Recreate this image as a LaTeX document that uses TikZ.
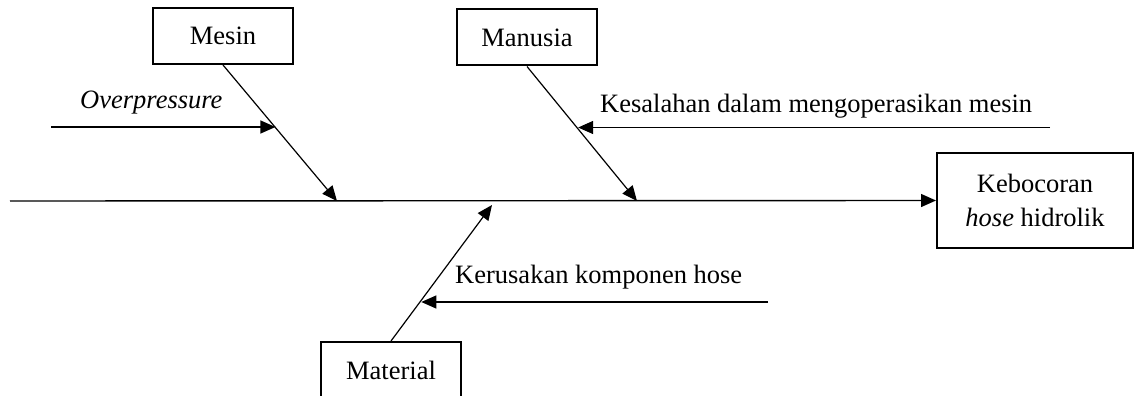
\documentclass[tikz,border=0pt]{standalone}
\usepackage{fontspec}
\setmainfont{Liberation Serif}
\usetikzlibrary{arrows.meta}
\begin{document}
\begin{tikzpicture}[x=1pt,y=-1pt,
  every node/.style={font=\fontsize{26.5}{34}\selectfont},
  catbox/.style={draw,line width=2pt,inner sep=0pt,minimum width=140pt,minimum height=56pt},
  effbox/.style={draw,line width=2pt,inner sep=0pt,minimum width=196pt,minimum height=95pt,align=center},
  bone/.style={line width=1.2pt,-{Triangle[length=15pt,width=13pt]}},
  label/.style={anchor=base west,inner sep=0pt}]
\useasboundingbox (0,0) rectangle (1135,396);
% boxes
\node[catbox] (mesin) at (223,36) {Mesin};
\node[catbox] (manusia) at (527,37.5) {Manusia};
\node[catbox] (material) at (391,370) {Material};
\node[effbox] (effect) at (1035,200.5) {Kebocoran\\\textit{hose} hidrolik};
% spine
\coordinate (tail) at (10,201);
\coordinate (s1) at (337,201);
\coordinate (s2) at (637,201);
\coordinate (s3) at (492,205);
\draw[bone,line width=1.4pt] (tail) -- (effect.west);
% ribs
\draw[bone] (mesin.south) -- coordinate[pos=0.46] (mo) (s1);
\draw[bone] (manusia.south) -- coordinate[pos=0.465] (mk) (s2);
\draw[bone] (material.north) -- coordinate[pos=0.30] (mr) (s3);
% causes
\coordinate (c1) at (51,127);
\coordinate (c2) at (1050,127.5);
\coordinate (c3) at (768,302);
\draw[bone] (c1) -- (c1 -| mo);
\draw[bone] (c2) -- (c2 -| mk);
\draw[bone] (c3) -- (c3 -| mr);
\node[label] (t1) at (80,108) {\textit{Overpressure}};
\node[label] (t2) at (600,112) {Kesalahan dalam mengoperasikan mesin};
\node[label] (t3) at (455,283) {Kerusakan komponen hose};
\end{tikzpicture}
\end{document}
